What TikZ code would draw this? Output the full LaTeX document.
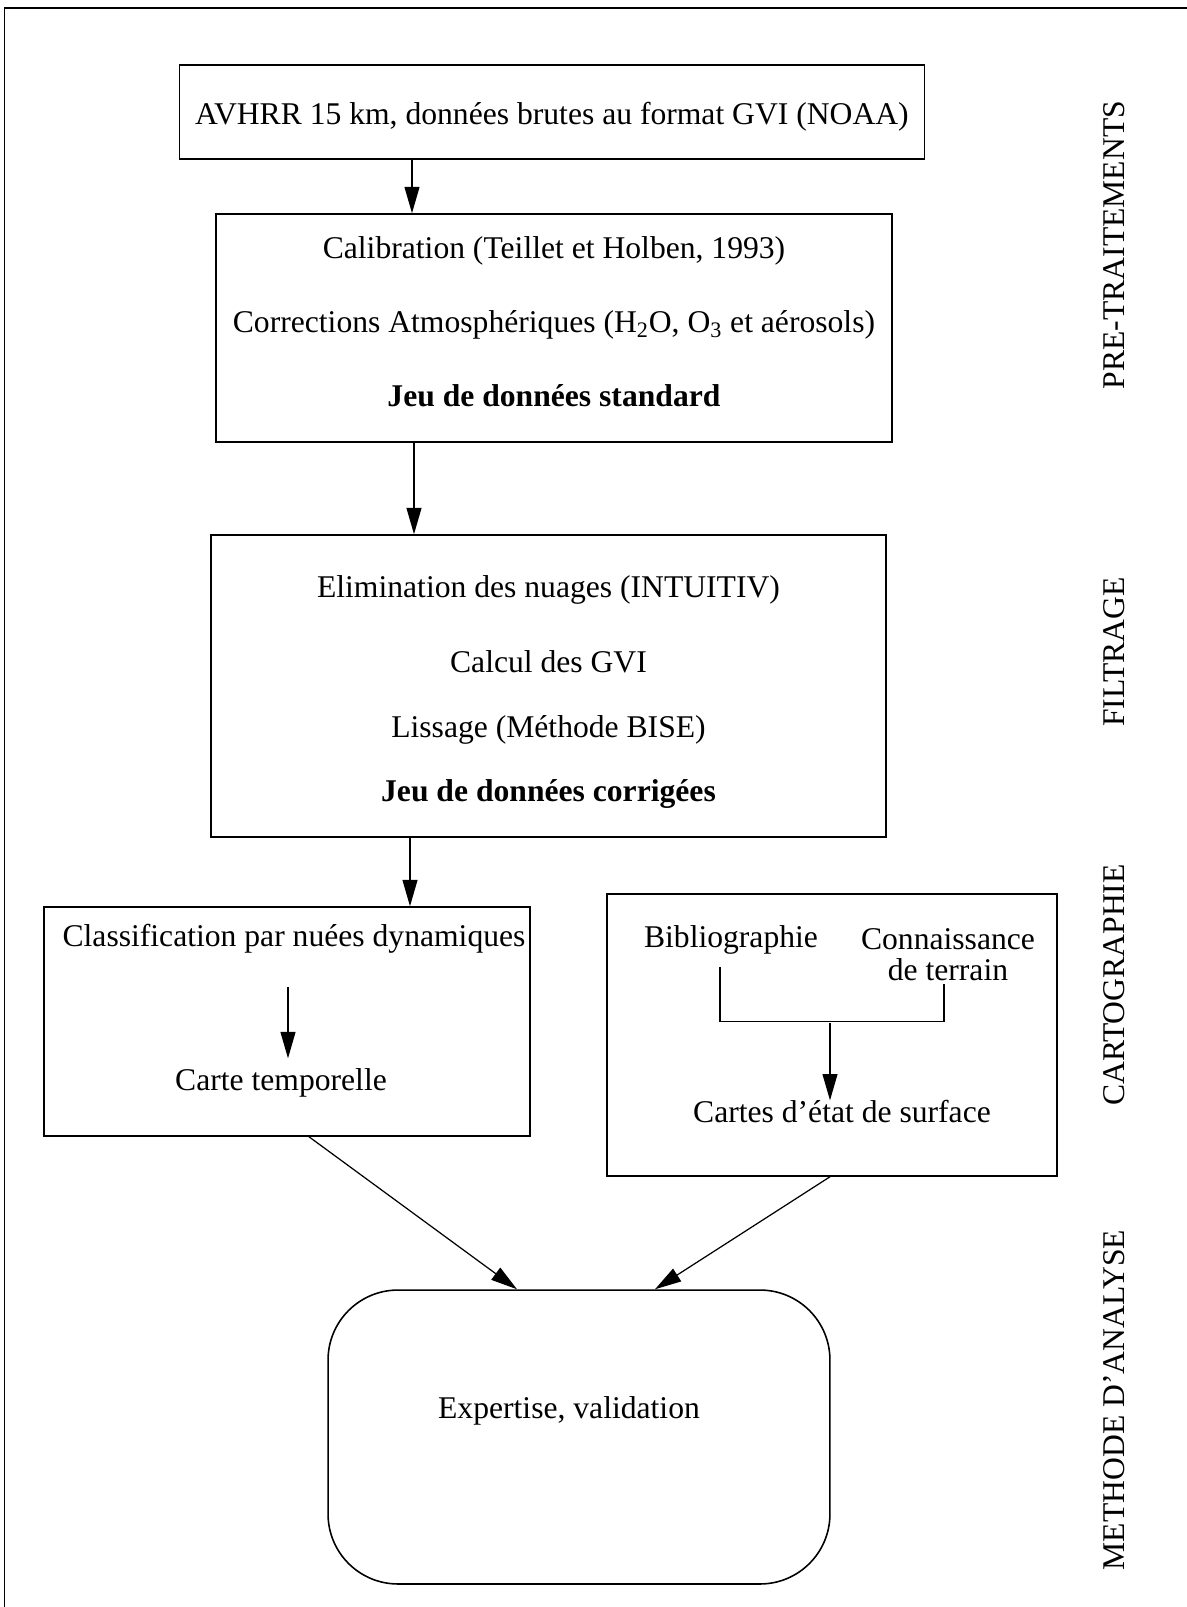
\documentclass[tikz,border=0pt]{standalone}
\usepackage{fontspec}
\setmainfont{Liberation Serif}
\usetikzlibrary{positioning,calc,arrows.meta}

\begin{document}
\begin{tikzpicture}[
            x=0.02cm, y=-0.02cm,
            font=\fontsize{18}{22}\selectfont,
            box/.style={draw, rectangle, align=center, line width=0.9pt, inner sep=0pt},
            txt/.style={align=center, inner sep=0pt},
            side/.style={rotate=90, inner sep=0pt},
            arr/.style={-{Triangle[length=15pt,width=8.5pt]}, line width=0.7pt}
        ]
        \useasboundingbox (0,0) rectangle (1187,1607);
        \draw[line width=1.4pt] (4,8) -- (1187,8);
        \draw[line width=0.5pt] (4,8) -- (4,1607);

        % pre-traitements
        \node[box, minimum width=14.9cm, minimum height=1.88cm] (A) at (552,112) {};
        \node[txt] (A1) at (552,117) {AVHRR 15 km, données brutes au format GVI (NOAA)};
        \node[box, minimum width=13.52cm, minimum height=4.56cm] (B) at (554,328) {};
        \node[txt, font=\fontsize{18}{42}\selectfont] (B1) at (554,322)
            {Calibration (Teillet et Holben, 1993)\\
             Corrections Atmosphériques (H\textsubscript{2}O, O\textsubscript{3} et aérosols)\\
             \textbf{Jeu de données standard}};

        % filtrage
        \node[box, minimum width=13.5cm, minimum height=6.04cm] (C) at (548.5,686) {};
        \node[txt, font=\fontsize{18}{36.3}\selectfont] (C1) at (548.5,692)
            {Elimination des nuages (INTUITIV)\\[6.2pt]
             Calcul des GVI\\[1.1pt]
             Lissage (Méthode BISE)\\
             \textbf{Jeu de données corrigées}};

        % cartographie
        \node[box, minimum width=9.72cm, minimum height=4.58cm] (D) at (287,1021.5) {};
        \node[txt] (D1) at (294,939) {Classification par nuées dynamiques};
        \node[txt] (D2) at (281,1083) {Carte temporelle};

        \node[box, minimum width=9cm, minimum height=5.64cm] (E) at (832,1035) {};
        \node[txt] (E1) at (731,940) {Bibliographie};
        \node[txt, font=\fontsize{18}{17.6}\selectfont] (E2) at (948,955) {Connaissance\\de terrain};
        \node[txt] (E3) at (842,1112) {Cartes d'état de surface};
        \coordinate (join) at (830,1023);

        % analyse
        \node[box, rounded corners=1.4cm, minimum width=10.04cm, minimum height=5.88cm] (F) at (579,1437) {};
        \node[txt] (F1) at (569,1411) {Expertise, validation};

        % etapes
        \node[side] (L1) at (1114,245) {PRE-TRAITEMENTS};
        \node[side] (L2) at (1114,652) {FILTRAGE};
        \node[side] (L3) at (1114,985) {CARTOGRAPHIE};
        \node[side] (L4) at (1114,1400) {METHODE D'ANALYSE};

        \draw[arr] ($(A.south)+(-140,0)$) -- ($(B.north)+(-142,0)$);
        \draw[arr] ($(B.south)+(-140,0)$) -- ($(C.north)+(-134.5,0)$);
        \draw[arr] ($(C.south)+(-138.5,0)$) -- ($(D.north)+(123,0)$);

        \draw[arr] ($(D1.south)+(-6,33)$) -- ($(D2.north)+(7,-10)$);

        \draw[line width=0.7pt] ($(E1.south)+(-11,12)$) |- ($(E2.south)+(-4,40)$) -- ($(E2.south)+(-4,3)$);
        \draw[arr] (join) -- (join |- E3.north);

        \draw[arr] ($(D.south)+(22,0)$) -- ($(F.north)+(-62,0)$);
        \draw[arr] ($(E.south)+(-2,0)$) -- ($(F.north)+(76,0)$);
    \end{tikzpicture}
\end{document}
